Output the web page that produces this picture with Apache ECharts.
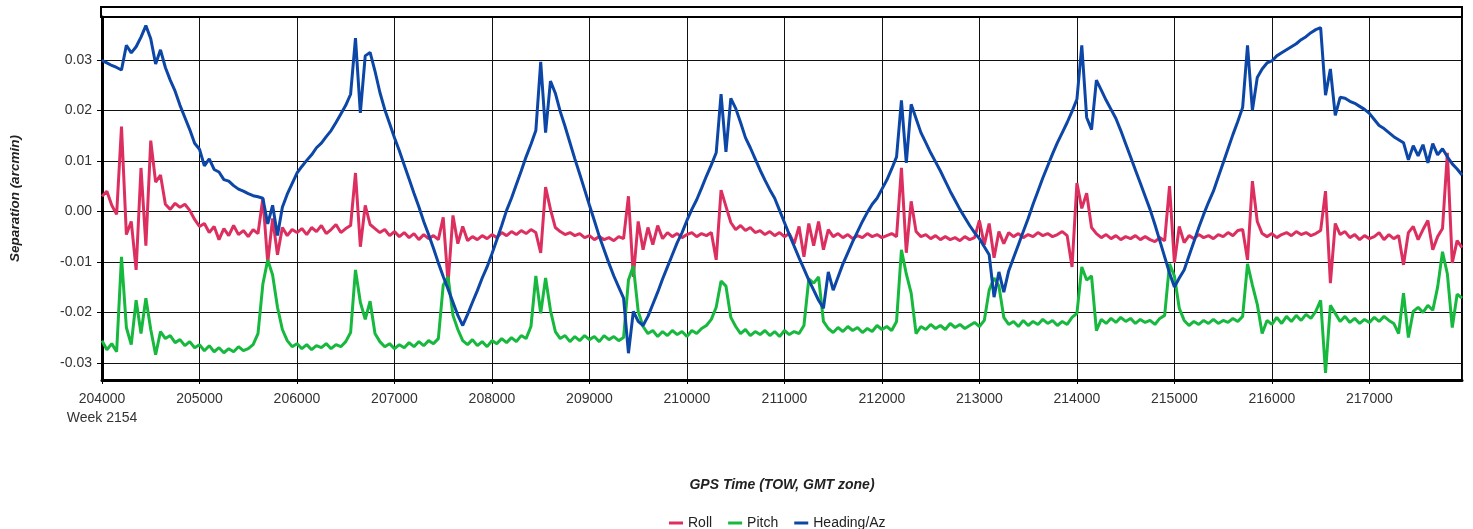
<!DOCTYPE html>
<html>
<head>
<meta charset="utf-8">
<title>Separation</title>
<script src="https://cdn.jsdelivr.net/npm/echarts@6/dist/echarts.min.js"></script>
<style>
  html, body { margin: 0; padding: 0; background: #fff; }
  #chart { width: 1473px; height: 529px; }
</style>
</head>
<body>
<div id="chart"></div>
<script>
// GPS time of week, one sample every 50 s from 204000
var towStart = 204000;
var towStep = 50;

// separation (arcmin)
var roll = [
  0.0030, 0.0040, 0.0012, -0.0006, 0.0168, -0.0046, -0.0020, -0.0116, 0.0086, -0.0068,
  0.0140, 0.0058, 0.0072, 0.0014, 0.0004, 0.0016, 0.0008, 0.0014, 0.0002, -0.0016,
  -0.0030, -0.0024, -0.0042, -0.0030, -0.0056, -0.0034, -0.0048, -0.0028, -0.0046, -0.0038,
  -0.0050, -0.0036, -0.0044, 0.0026, -0.0102, -0.0014, -0.0086, -0.0032, -0.0048, -0.0036,
  -0.0042, -0.0034, -0.0046, -0.0032, -0.0040, -0.0028, -0.0044, -0.0036, -0.0026, -0.0042,
  -0.0034, -0.0028, 0.0076, -0.0070, 0.0012, -0.0026, -0.0034, -0.0042, -0.0036, -0.0048,
  -0.0040, -0.0050, -0.0042, -0.0052, -0.0044, -0.0056, -0.0046, -0.0054, -0.0048, -0.0056,
  -0.0012, -0.0142, -0.0008, -0.0064, -0.0030, -0.0058, -0.0050, -0.0056, -0.0048, -0.0054,
  -0.0046, -0.0052, -0.0042, -0.0048, -0.0040, -0.0046, -0.0038, -0.0044, -0.0036, -0.0042,
  -0.0082, 0.0048, 0.0004, -0.0032, -0.0040, -0.0046, -0.0042, -0.0048, -0.0044, -0.0052,
  -0.0048, -0.0056, -0.0050, -0.0056, -0.0052, -0.0058, -0.0050, -0.0054, 0.0030, -0.0130,
  -0.0020, -0.0076, -0.0032, -0.0066, -0.0028, -0.0054, -0.0042, -0.0050, -0.0044, -0.0052,
  -0.0046, -0.0042, -0.0050, -0.0044, -0.0048, -0.0042, -0.0096, 0.0042, 0.0010, -0.0022,
  -0.0036, -0.0028, -0.0038, -0.0032, -0.0042, -0.0038, -0.0046, -0.0040, -0.0048, -0.0042,
  -0.0050, -0.0044, -0.0064, -0.0030, -0.0090, -0.0024, -0.0068, -0.0020, -0.0076, -0.0036,
  -0.0050, -0.0044, -0.0052, -0.0046, -0.0054, -0.0048, -0.0052, -0.0044, -0.0050, -0.0046,
  -0.0052, -0.0048, -0.0044, -0.0050, 0.0086, -0.0082, 0.0020, -0.0040, -0.0050, -0.0046,
  -0.0054, -0.0048, -0.0056, -0.0050, -0.0056, -0.0052, -0.0058, -0.0050, -0.0056, -0.0052,
  -0.0018, -0.0066, -0.0024, -0.0092, -0.0040, -0.0064, -0.0042, -0.0050, -0.0044, -0.0052,
  -0.0046, -0.0050, -0.0042, -0.0048, -0.0044, -0.0050, -0.0046, -0.0040, -0.0048, -0.0110,
  0.0056, 0.0006, 0.0036, -0.0032, -0.0044, -0.0052, -0.0046, -0.0054, -0.0048, -0.0056,
  -0.0050, -0.0054, -0.0048, -0.0056, -0.0050, -0.0056, -0.0060, -0.0052, -0.0058, 0.0050,
  -0.0102, -0.0030, -0.0062, -0.0048, -0.0054, -0.0046, -0.0052, -0.0048, -0.0054, -0.0046,
  -0.0050, -0.0042, -0.0048, -0.0038, -0.0036, -0.0096, 0.0060, -0.0020, -0.0044, -0.0050,
  -0.0044, -0.0052, -0.0046, -0.0042, -0.0048, -0.0040, -0.0046, -0.0042, -0.0048, -0.0044,
  -0.0038, 0.0040, -0.0142, -0.0024, -0.0046, -0.0040, -0.0052, -0.0046, -0.0056, -0.0048,
  -0.0054, -0.0050, -0.0042, -0.0056, -0.0046, -0.0054, -0.0048, -0.0106, -0.0042, -0.0030,
  -0.0056, -0.0036, -0.0018, -0.0076, -0.0050, -0.0034, 0.0116, -0.0102, -0.0058, -0.0072
];

var pitch = [
  -0.0256, -0.0274, -0.0262, -0.0278, -0.0090, -0.0230, -0.0264, -0.0176, -0.0242, -0.0172,
  -0.0234, -0.0284, -0.0238, -0.0252, -0.0246, -0.0260, -0.0254, -0.0266, -0.0258, -0.0270,
  -0.0264, -0.0276, -0.0266, -0.0278, -0.0270, -0.0280, -0.0272, -0.0278, -0.0268, -0.0276,
  -0.0272, -0.0264, -0.0242, -0.0144, -0.0096, -0.0126, -0.0190, -0.0234, -0.0256, -0.0268,
  -0.0262, -0.0272, -0.0264, -0.0274, -0.0266, -0.0270, -0.0262, -0.0272, -0.0264, -0.0268,
  -0.0258, -0.0240, -0.0116, -0.0180, -0.0214, -0.0178, -0.0242, -0.0258, -0.0268, -0.0262,
  -0.0272, -0.0264, -0.0270, -0.0260, -0.0268, -0.0258, -0.0266, -0.0256, -0.0262, -0.0252,
  -0.0146, -0.0130, -0.0206, -0.0234, -0.0256, -0.0264, -0.0254, -0.0266, -0.0258, -0.0268,
  -0.0256, -0.0262, -0.0252, -0.0260, -0.0250, -0.0258, -0.0246, -0.0252, -0.0228, -0.0128,
  -0.0202, -0.0132, -0.0196, -0.0238, -0.0252, -0.0246, -0.0258, -0.0248, -0.0256, -0.0246,
  -0.0254, -0.0248, -0.0258, -0.0246, -0.0254, -0.0248, -0.0256, -0.0250, -0.0136, -0.0108,
  -0.0198, -0.0228, -0.0242, -0.0236, -0.0248, -0.0238, -0.0246, -0.0236, -0.0244, -0.0238,
  -0.0248, -0.0236, -0.0242, -0.0232, -0.0226, -0.0214, -0.0190, -0.0138, -0.0148, -0.0210,
  -0.0228, -0.0242, -0.0234, -0.0246, -0.0238, -0.0244, -0.0236, -0.0246, -0.0238, -0.0248,
  -0.0236, -0.0244, -0.0238, -0.0242, -0.0226, -0.0134, -0.0142, -0.0130, -0.0218, -0.0232,
  -0.0240, -0.0230, -0.0238, -0.0228, -0.0236, -0.0230, -0.0240, -0.0232, -0.0238, -0.0226,
  -0.0234, -0.0228, -0.0236, -0.0218, -0.0076, -0.0124, -0.0162, -0.0242, -0.0228, -0.0234,
  -0.0224, -0.0232, -0.0226, -0.0234, -0.0222, -0.0230, -0.0224, -0.0232, -0.0226, -0.0220,
  -0.0228, -0.0216, -0.0156, -0.0132, -0.0148, -0.0210, -0.0224, -0.0218, -0.0228, -0.0216,
  -0.0226, -0.0218, -0.0224, -0.0214, -0.0222, -0.0216, -0.0226, -0.0218, -0.0224, -0.0210,
  -0.0202, -0.0110, -0.0136, -0.0128, -0.0236, -0.0214, -0.0222, -0.0212, -0.0220, -0.0210,
  -0.0218, -0.0212, -0.0222, -0.0214, -0.0220, -0.0216, -0.0224, -0.0212, -0.0206, -0.0104,
  -0.0128, -0.0192, -0.0216, -0.0226, -0.0218, -0.0224, -0.0216, -0.0222, -0.0214, -0.0222,
  -0.0216, -0.0220, -0.0212, -0.0218, -0.0208, -0.0104, -0.0146, -0.0184, -0.0242, -0.0216,
  -0.0224, -0.0210, -0.0222, -0.0208, -0.0218, -0.0206, -0.0216, -0.0204, -0.0212, -0.0198,
  -0.0176, -0.0320, -0.0186, -0.0202, -0.0218, -0.0208, -0.0220, -0.0212, -0.0222, -0.0214,
  -0.0220, -0.0210, -0.0218, -0.0208, -0.0216, -0.0222, -0.0242, -0.0162, -0.0250, -0.0198,
  -0.0190, -0.0200, -0.0186, -0.0196, -0.0150, -0.0080, -0.0124, -0.0230, -0.0164, -0.0172
];

var heading = [
  0.0299, 0.0294, 0.0289, 0.0285, 0.0280, 0.0329, 0.0314, 0.0326, 0.0345, 0.0368,
  0.0342, 0.0292, 0.0320, 0.0285, 0.0260, 0.0238, 0.0210, 0.0186, 0.0162, 0.0135,
  0.0123, 0.0090, 0.0104, 0.0083, 0.0078, 0.0063, 0.0060, 0.0051, 0.0044, 0.0040,
  0.0035, 0.0031, 0.0029, 0.0026, -0.0025, 0.0012, -0.0048, 0.0008, 0.0034, 0.0055,
  0.0076, 0.0089, 0.0101, 0.0112, 0.0126, 0.0135, 0.0148, 0.0160, 0.0176, 0.0193,
  0.0210, 0.0232, 0.0343, 0.0195, 0.0308, 0.0315, 0.0278, 0.0236, 0.0202, 0.0174,
  0.0146, 0.0120, 0.0092, 0.0064, 0.0036, 0.0009, -0.0020, -0.0046, -0.0073, -0.0102,
  -0.0129, -0.0154, -0.0180, -0.0206, -0.0226, -0.0204, -0.0180, -0.0157, -0.0132, -0.0110,
  -0.0084, -0.0056, -0.0028, 0.0002, 0.0026, 0.0053, 0.0080, 0.0108, 0.0133, 0.0160,
  0.0296, 0.0156, 0.0258, 0.0234, 0.0198, 0.0168, 0.0136, 0.0104, 0.0074, 0.0043,
  0.0012, -0.0018, -0.0049, -0.0076, -0.0103, -0.0128, -0.0150, -0.0172, -0.0281, -0.0198,
  -0.0218, -0.0226, -0.0208, -0.0184, -0.0160, -0.0134, -0.0110, -0.0086, -0.0062, -0.0042,
  -0.0018, 0.0004, 0.0023, 0.0046, 0.0070, 0.0092, 0.0116, 0.0232, 0.0118, 0.0224,
  0.0204, 0.0176, 0.0146, 0.0126, 0.0104, 0.0082, 0.0062, 0.0043, 0.0026, 0.0002,
  -0.0022, -0.0046, -0.0069, -0.0092, -0.0114, -0.0136, -0.0156, -0.0176, -0.0192, -0.0120,
  -0.0156, -0.0130, -0.0104, -0.0082, -0.0060, -0.0040, -0.0020, -0.0002, 0.0014, 0.0026,
  0.0044, 0.0062, 0.0084, 0.0108, 0.0220, 0.0096, 0.0212, 0.0184, 0.0156, 0.0136,
  0.0116, 0.0098, 0.0080, 0.0060, 0.0040, 0.0022, 0.0004, -0.0012, -0.0028, -0.0042,
  -0.0054, -0.0070, -0.0086, -0.0170, -0.0120, -0.0160, -0.0118, -0.0092, -0.0066, -0.0040,
  -0.0014, 0.0014, 0.0040, 0.0066, 0.0090, 0.0114, 0.0136, 0.0156, 0.0176, 0.0198,
  0.0222, 0.0329, 0.0186, 0.0162, 0.0260, 0.0240, 0.0220, 0.0202, 0.0184, 0.0160,
  0.0134, 0.0108, 0.0082, 0.0056, 0.0030, 0.0004, -0.0026, -0.0058, -0.0090, -0.0122,
  -0.0150, -0.0132, -0.0116, -0.0088, -0.0060, -0.0032, -0.0006, 0.0018, 0.0040, 0.0068,
  0.0096, 0.0124, 0.0152, 0.0178, 0.0206, 0.0329, 0.0200, 0.0265, 0.0282, 0.0294,
  0.0298, 0.0308, 0.0314, 0.0320, 0.0326, 0.0332, 0.0340, 0.0346, 0.0354, 0.0360,
  0.0364, 0.0230, 0.0282, 0.0190, 0.0226, 0.0224, 0.0218, 0.0214, 0.0208, 0.0202,
  0.0194, 0.0182, 0.0170, 0.0164, 0.0156, 0.0148, 0.0142, 0.0136, 0.0102, 0.0130,
  0.0110, 0.0132, 0.0096, 0.0134, 0.0112, 0.0124, 0.0108, 0.0094, 0.0084, 0.0072
];

var towMin = 204000;
var towMax = 217950;
var sepMin = -0.0334;
var sepMax = 0.0385;
var weekLabel = 'Week 2154';

function pairs(vals) {
  var out = [];
  for (var i = 0; i < vals.length; i++) {
    out.push([towStart + i * towStep, vals[i]]);
  }
  return out;
}

var font = 'Liberation Sans, Arial, sans-serif';

var myChart = echarts.init(document.getElementById('chart'), null, { renderer: 'canvas' });

var option = {
  backgroundColor: '#fff',
  animation: false,
  textStyle: { fontFamily: font },
  grid: {
    left: 102, right: 11, top: 17, bottom: 149,
    show: true,
    borderColor: '#000',
    borderWidth: 2,
    backgroundColor: 'transparent'
  },
  graphic: [{
    // thin strip above the plot frame
    type: 'rect',
    shape: { x: 101, y: 7, width: 1361, height: 10 },
    style: { fill: 'none', stroke: '#000', lineWidth: 2 },
    z: 10
  }],
  legend: {
    left: 664,
    top: 511,
    icon: 'rect',
    itemWidth: 14,
    itemHeight: 3,
    itemGap: 16,
    textStyle: { fontSize: 14, color: '#222', fontFamily: font },
    data: ['Roll', 'Pitch', 'Heading/Az']
  },
  xAxis: {
    type: 'value',
    min: towMin,
    max: towMax,
    interval: 1000,
    name: 'GPS Time (TOW, GMT zone)',
    nameLocation: 'middle',
    nameGap: 98,
    nameTextStyle: { fontSize: 14, fontWeight: 'bold', fontStyle: 'italic', color: '#222', fontFamily: font },
    axisLine: { onZero: false, lineStyle: { color: '#000', width: 3 } },
    axisTick: { show: true, length: 4, lineStyle: { color: '#000' } },
    axisLabel: {
      fontSize: 14, color: '#333', margin: 10, lineHeight: 19,
      showMaxLabel: false,
      formatter: function (v) {
        return v === towMin ? v + '\n' + weekLabel : String(v);
      }
    },
    splitLine: { show: true, lineStyle: { color: '#111', width: 1 } }
  },
  yAxis: {
    type: 'value',
    min: sepMin,
    max: sepMax,
    splitNumber: 7,
    name: 'Separation (arcmin)',
    nameLocation: 'middle',
    nameGap: 80,
    nameTextStyle: { fontSize: 13.5, fontWeight: 'bold', fontStyle: 'italic', color: '#222', fontFamily: font },
    axisLine: { show: true, onZero: false, lineStyle: { color: '#000', width: 3 } },
    axisTick: { show: true, length: 5, lineStyle: { color: '#000' } },
    axisLabel: {
      fontSize: 14, color: '#333', margin: 10,
      showMinLabel: false, showMaxLabel: false,
      formatter: function (v) { return v.toFixed(2); }
    },
    splitLine: { show: true, lineStyle: { color: '#111', width: 1 } }
  },
  series: [
    {
      name: 'Roll', type: 'line', data: pairs(roll),
      showSymbol: false, color: '#dc2f5f',
      lineStyle: { width: 3, color: '#dc2f5f' }
    },
    {
      name: 'Pitch', type: 'line', data: pairs(pitch),
      showSymbol: false, color: '#17b83e',
      lineStyle: { width: 3, color: '#17b83e' }
    },
    {
      name: 'Heading/Az', type: 'line', data: pairs(heading),
      showSymbol: false, color: '#0c46a6',
      lineStyle: { width: 3, color: '#0c46a6' }
    }
  ]
};

myChart.setOption(option);
</script>
</body>
</html>
